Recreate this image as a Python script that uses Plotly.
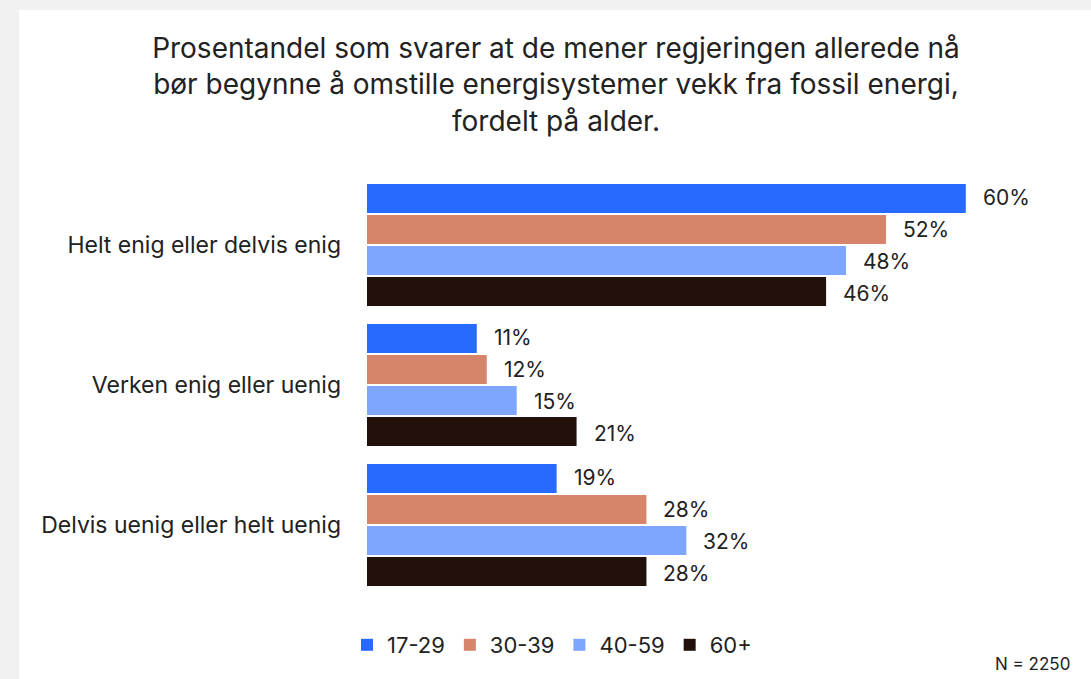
import plotly.graph_objects as go

# Survey responses by age group
categories = ["Helt enig eller delvis enig", "Verken enig eller uenig", "Delvis uenig eller helt uenig"]
age_groups = ["17-29", "30-39", "40-59", "60+"]
values = {
    "17-29": [60, 11, 19],
    "30-39": [52, 12, 28],
    "40-59": [48, 15, 32],
    "60+":   [46, 21, 28],
}
colors = {
    "17-29": "#2869FF",
    "30-39": "#D6846A",
    "40-59": "#7FA6FF",
    "60+":   "#22110A",
}
title_text = ("Prosentandel som svarer at de mener regjeringen allerede nå<br>"
              "bør begynne å omstille energisystemer vekk fra fossil energi,<br>"
              "fordelt på alder.")
sample_note = "N = 2250"

FONT = "Inter"
TEXT = "#222222"
W, H = 1091, 679
ML, MR, MT, MB = 367, 25, 175, 84
PW, PH = W - ML - MR, H - MT - MB


def px_x(x):
    """Container pixel x -> plot-area paper fraction."""
    return (x - ML) / PW


def px_y(y):
    """Container pixel y (from top) -> plot-area paper fraction."""
    return (H - MB - y) / PH


fig = go.Figure()
n = len(age_groups)
for gi, g in enumerate(age_groups):
    fig.add_trace(go.Bar(
        y=categories, x=values[g], name=g, orientation="h",
        marker=dict(color=colors[g], line=dict(width=0)),
    ))
    # value labels just past each bar end, shifted onto their bar in the group
    for cat, v in zip(categories, values[g]):
        fig.add_annotation(
            x=v, y=cat, text=f"{v}%", showarrow=False,
            xanchor="left", xshift=15, yshift=-(gi - (n - 1) / 2) * 32,
            font=dict(family=FONT, size=21, color=TEXT),
            yref="y", xref="x",
        )

fig.add_annotation(
    x=px_x(1032), y=px_y(664), xref="paper", yref="paper", yanchor="middle",
    xanchor="center", text=sample_note, showarrow=False,
    font=dict(family=FONT, size=17, color=TEXT),
)

# white card on a soft grey frame
fig.add_shape(type="rect", xref="paper", yref="paper",
              x0=px_x(19), x1=px_x(W + 20), y0=px_y(H + 20), y1=px_y(10),
              line=dict(width=0), fillcolor="#ffffff", layer="below")

fig.update_layout(
    width=W, height=H,
    paper_bgcolor="#F1F1F1", plot_bgcolor="rgba(0,0,0,0)",
    margin=dict(l=ML, r=MR, t=MT, b=MB, autoexpand=False),
    barmode="group", bargap=0.114, bargroupgap=0.07,
    title=dict(text=title_text, x=556 / W, xanchor="center", xref="container",
               y=1 - 58 / H, yanchor="top", yref="container",
               font=dict(family=FONT, size=28, color=TEXT)),
    xaxis=dict(range=[0, PW / 9.98], visible=False, fixedrange=True),
    yaxis=dict(autorange="reversed", showgrid=False, zeroline=False,
               showline=False, ticks="", ticklabelstandoff=25,
               tickfont=dict(family=FONT, size=23, color=TEXT)),
    legend=dict(orientation="h", x=px_x(552), xanchor="center", y=px_y(645),
                yanchor="middle", font=dict(family=FONT, size=22, color=TEXT),
                bgcolor="rgba(0,0,0,0)", traceorder="normal", itemwidth=30),
    showlegend=True,
)

fig.write_html("out.html")
